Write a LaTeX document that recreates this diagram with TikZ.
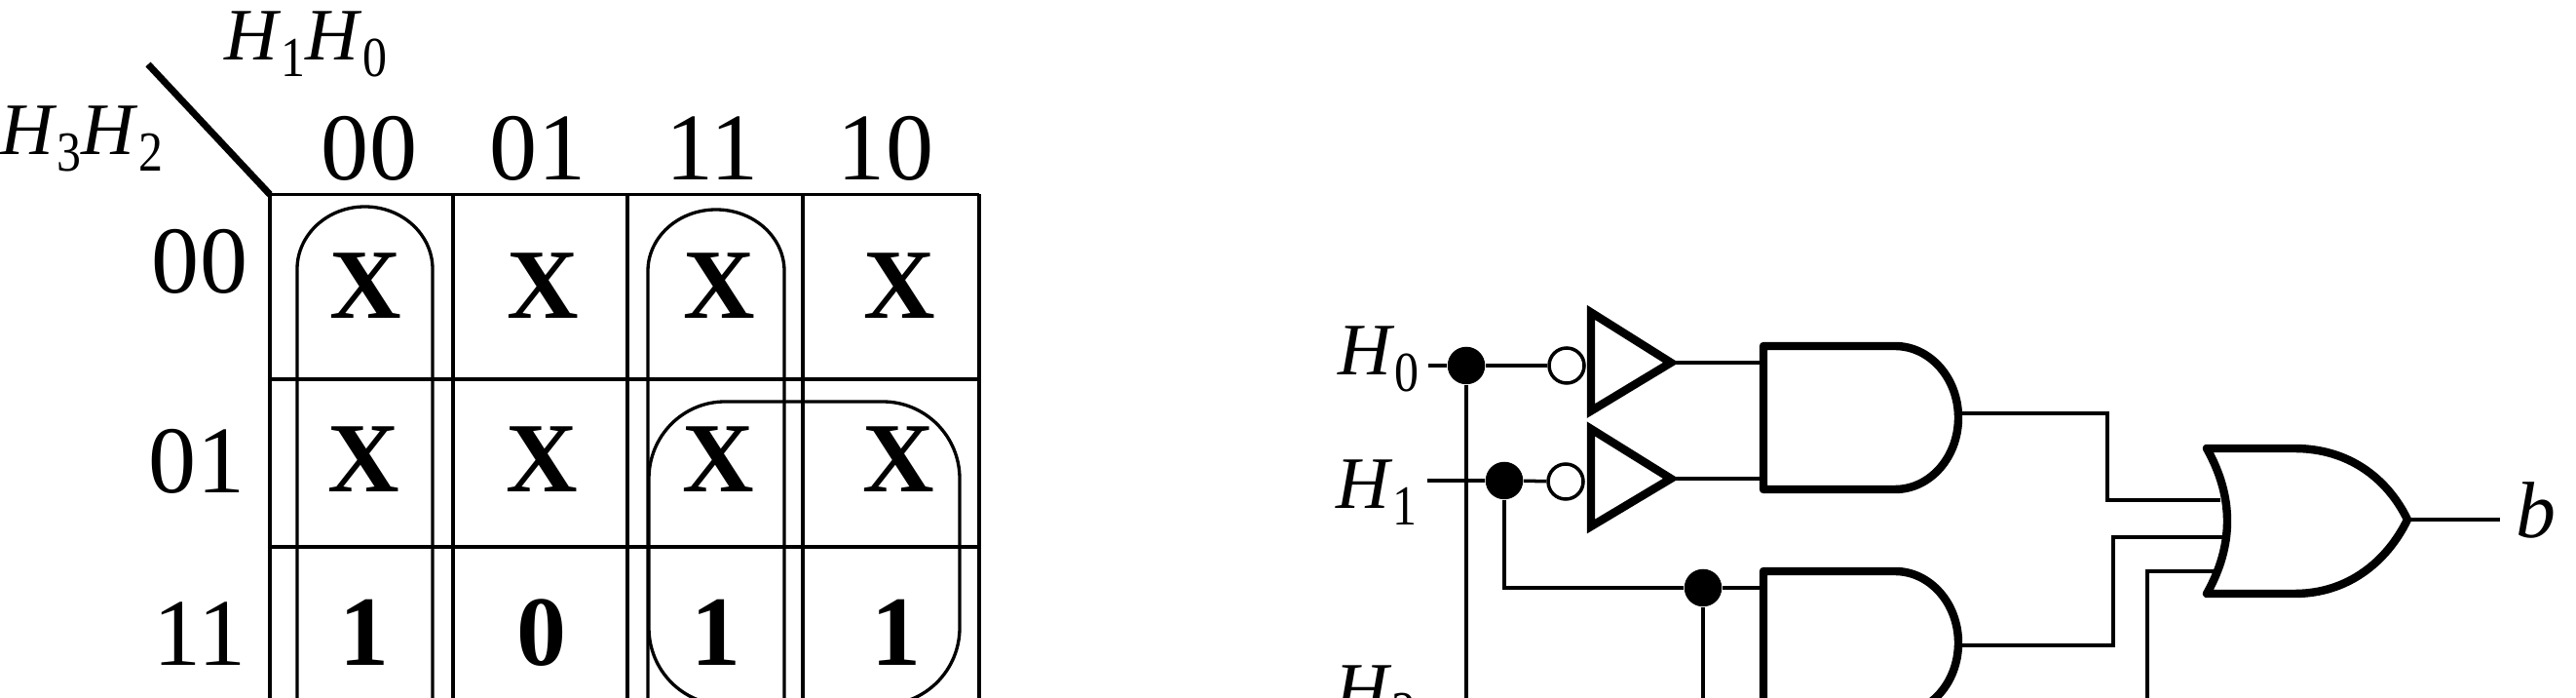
\documentclass[tikz,border=0pt]{standalone}
\usepackage{xcolor}
\usepackage{fontspec}
\setmainfont{Liberation Serif}
\usepackage{tikz}
\usetikzlibrary{calc}
\newcommand{\hsub}[1]{\textit{H}\raisebox{-4.8pt}{\scalebox{0.86}[1]{\fontsize{16.5}{16.5}\selectfont #1}}}
\tikzset{
  gridline/.style={line width=1.1pt, color=black},
  loopline/.style={line width=0.95pt, color=black},
  wire/.style={line width=1pt, color=black},
  gate/.style={line width=2.4pt, color=black, line join=round},
  digit/.style={anchor=base, inner sep=0pt, font=\fontsize{27.9}{27.9}\selectfont},
  cell/.style={anchor=base, inner sep=0pt, font=\fontsize{29}{29}\selectfont\bfseries},
  varname/.style={anchor=base west, inner sep=0pt, font=\fontsize{21.6}{21.6}\selectfont},
  junction/.style={circle, fill=black, draw=none, minimum size=0.385cm, inner sep=0pt},
  bubble/.style={circle, draw=black, fill=white, line width=1pt, minimum size=0.36cm, inner sep=0pt}
}

\begin{document}
\begin{tikzpicture}
  \useasboundingbox (0,0) rectangle (26.44,7.16);
  \clip (0,0) rectangle (26.44,7.16);

  % Map frame
  \foreach \x in {2.77,4.65,6.44,8.24,10.05}
    \draw[gridline] (\x,5.165) -- (\x,-0.1);
  \foreach \y in {5.165,3.27,1.55}
    \draw[gridline] (2.77,\y) -- (10.05,\y);
  \draw[line width=2pt] (1.52,6.50) -- (2.77,5.165);

  % Corner labels
  \node[varname] (toplabel) at (2.30,6.54) {\hsub{1}\hsub{0}};
  \node[varname] (sidelabel) at (0.0,5.57) {\hsub{3}\hsub{2}};

  % Column and row headings
  \foreach \x/\t in {3.79/00, 5.52/01, 7.31/11, 9.09/10}
    \node[digit] (col\t) at (\x,5.31) {\t};
  \foreach \x/\y/\t in {2.05/4.15/00, 2.02/2.10/01, 2.05/0.33/11}
    \node[digit] (row\t) at (\x,\y) {\t};

  % Map entries
  \foreach \x/\y/\t/\n in {3.75/3.89/X/a, 5.57/3.89/X/b, 7.38/3.89/X/c, 9.23/3.89/X/d,
                           3.73/2.11/X/e, 5.56/2.11/X/f, 7.37/2.11/X/g, 9.22/2.11/X/h,
                           3.74/0.33/1/i, 5.56/0.33/0/j, 7.35/0.33/1/k, 9.20/0.33/1/l}
    \node[cell] (entry\n) at (\x,\y) {\t};

  % Groupings
  \draw[loopline] (3.05,-0.1) -- (3.05,4.40) arc[start angle=180, end angle=0, x radius=0.695, y radius=0.64] -- (4.44,-0.1);
  \draw[loopline] (6.65,-0.1) -- (6.65,4.38) arc[start angle=180, end angle=0, x radius=0.70, y radius=0.63] -- (8.05,-0.1);
  \draw[loopline] (6.66,0.72) -- (6.66,2.25) arc[start angle=180, end angle=90, x radius=0.78, y radius=0.79]
    -- (9.06,3.04) arc[start angle=90, end angle=0, x radius=0.79, y radius=0.79]
    -- (9.85,0.72) arc[start angle=0, end angle=-90, x radius=0.79, y radius=0.79]
    -- (7.44,-0.07) arc[start angle=270, end angle=180, x radius=0.78, y radius=0.79] -- cycle;

  % Inputs
  \node[varname] (labelH0) at (13.73,3.31) {\hsub{0}};
  \node[varname] (labelH1) at (13.71,1.94) {\hsub{1}};
  \node[varname] (labelH2) at (13.70,-0.17) {\hsub{2}};
  \coordinate (inA) at (14.66,3.41);
  \coordinate (inB) at (14.65,2.23);
  \coordinate (endA) at (15.05,-0.1);
  \coordinate (elbowB) at (15.44,1.13);
  \coordinate (endC) at (17.48,-0.1);
  \coordinate (endD) at (22.04,-0.1);

  % Junctions and inverter bubbles
  \node[junction] (dotA) at (15.05,3.41) {};
  \node[junction] (dotB) at (15.44,2.23) {};
  \node[junction] (dotC) at (17.48,1.13) {};
  \node[bubble] (bubA) at (16.08,3.41) {};
  \node[bubble] (bubB) at (16.07,2.22) {};

  % Inverters
  \coordinate (tipA) at (17.15,3.44);
  \coordinate (tipB) at (17.15,2.25);
  \draw[gate, line join=miter] (16.33,3.955) -- (tipA) -- (16.33,2.945) -- cycle;
  \draw[gate, line join=miter] (16.33,2.76) -- (tipB) -- (16.33,1.76) -- cycle;

  % AND gates
  \draw[gate] (18.10,3.61) -- (19.45,3.61) arc[start angle=90, end angle=-90, x radius=0.65, y radius=0.735] -- (18.10,2.14) -- cycle;
  \draw[gate] (18.10,1.30) -- (19.45,1.30) arc[start angle=90, end angle=-90, x radius=0.65, y radius=0.735] -- (18.10,-0.17) -- cycle;
  \coordinate (pinA) at (18.10,3.44);
  \coordinate (pinB) at (18.10,2.25);
  \coordinate (pinC) at (18.10,1.13);
  \coordinate (outA) at (20.10,2.92);
  \coordinate (outB) at (20.10,0.54);

  % OR gate
  \draw[gate] (22.65,2.56) -- (23.55,2.56) .. controls (24.10,2.56) and (24.50,2.26) .. (24.71,1.83)
    .. controls (24.50,1.40) and (24.10,1.07) .. (23.55,1.07) -- (22.65,1.07)
    .. controls (22.93,1.57) and (22.93,2.06) .. cycle;
  \coordinate (orInA) at (22.79,2.03);
  \coordinate (orInB) at (22.82,1.65);
  \coordinate (orInC) at (22.745,1.30);
  \coordinate (orOut) at (24.71,1.83);
  \coordinate (endOut) at (25.66,1.83);
  \node[varname, font=\fontsize{23.3}{23.3}\selectfont\itshape] (labelB) at (25.82,1.64) {b};

  % Wires
  \draw[wire] (inA) -- (dotA) -- (bubA);
  \draw[wire] (inB) -- (dotB) -- (bubB);
  \draw[wire] (dotA) -- (endA);
  \draw[wire] (dotB) -- (elbowB) -- (dotC) -- (pinC);
  \draw[wire] (dotC) -- (endC);
  \draw[wire] (tipA) -- (pinA);
  \draw[wire] (tipB) -- (pinB);
  \draw[wire] (outA) -- ++(1.53,0) |- (orInA);
  \draw[wire] (outB) -- ++(1.59,0) |- (orInB);
  \draw[wire] (endD) |- (orInC);
  \draw[wire] (orOut) -- (endOut);
\end{tikzpicture}
\end{document}
